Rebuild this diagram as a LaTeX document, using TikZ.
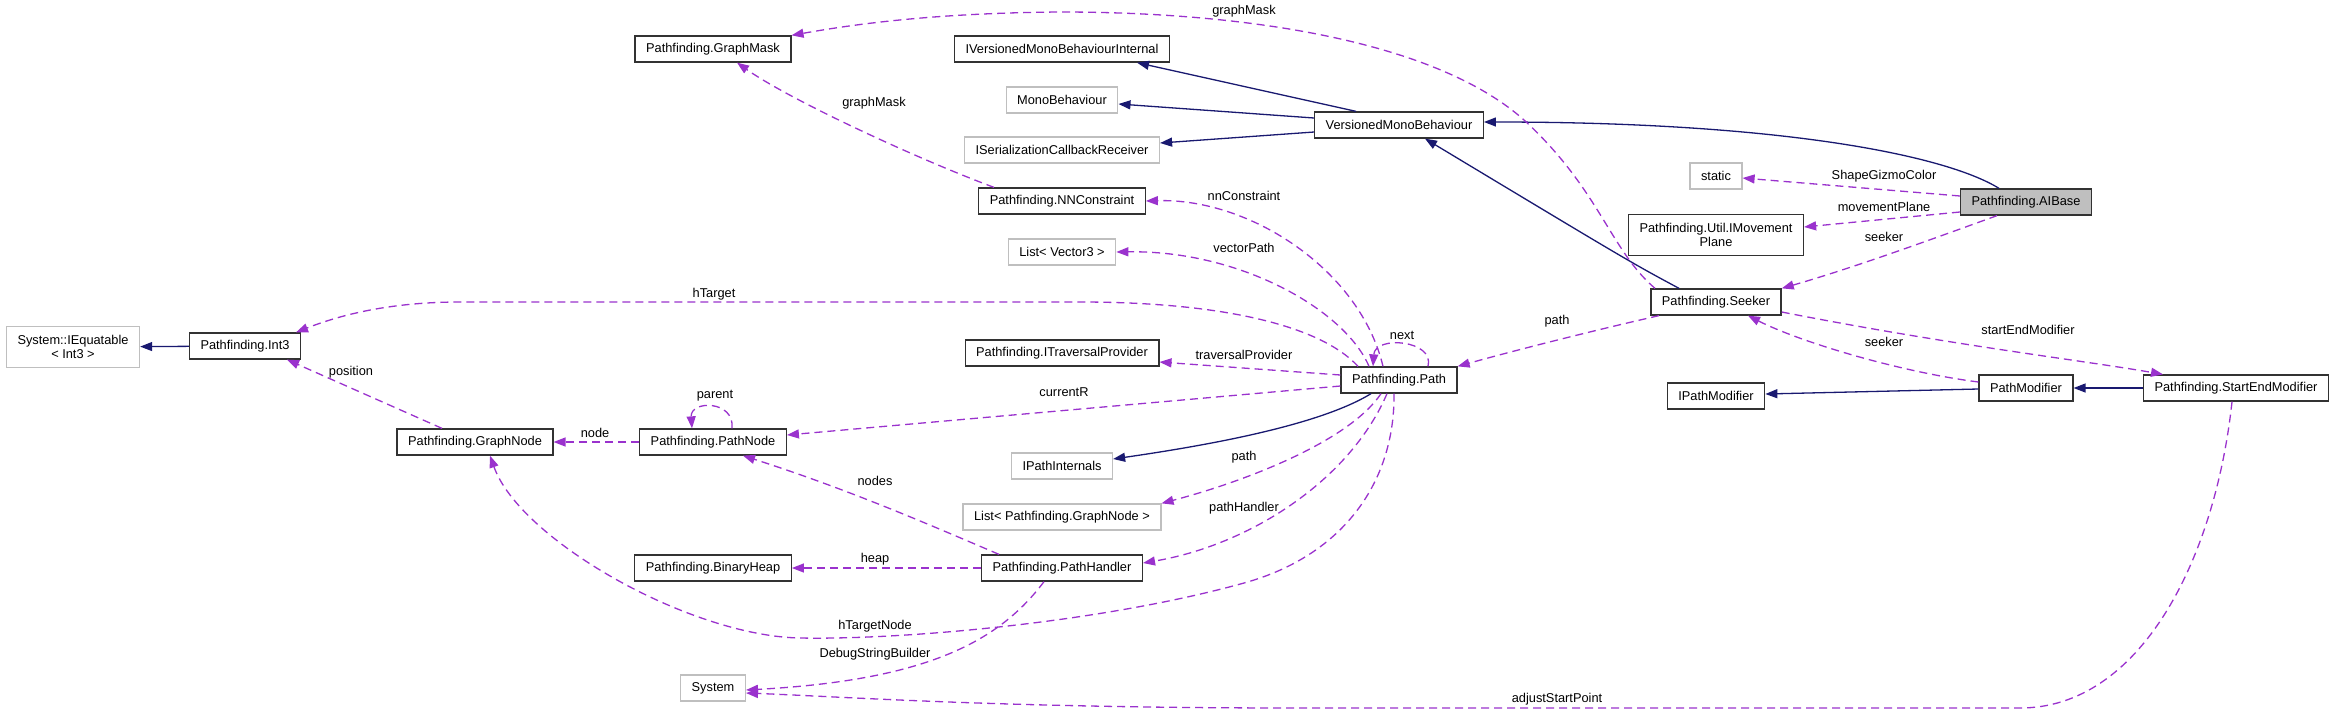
\documentclass[tikz,border=0pt]{standalone}
\usepackage{fontspec}
\setmainfont{Liberation Sans}
\usetikzlibrary{arrows.meta,positioning}
\definecolor{inheritblue}{RGB}{25,25,112}
\definecolor{usepurple}{RGB}{154,50,205}
\definecolor{extgray}{RGB}{191,191,191}
\definecolor{framegray}{RGB}{50,50,50}
\newcommand{\doxyfont}{\fontsize{12.8}{14}\selectfont}

\begin{document}
\begin{tikzpicture}[
 x=1pt, y=-1pt,
 cls/.style={rectangle, draw=framegray, fill=white, line width=1.3pt, minimum height=26pt, inner xsep=11pt, inner ysep=0pt, align=center, font=\doxyfont},
 ext/.style={cls, draw=extgray},
 focus/.style={cls, fill=extgray},
 inherit/.style={-{Triangle[length=12pt,width=9pt]}, color=inheritblue, line width=1.3pt},
 uses/.style={-{Triangle[length=12pt,width=9pt]}, color=usepurple, line width=1.3pt, dash pattern=on 8pt off 5pt},
 lbl/.style={font=\doxyfont, text=black, inner sep=0pt}
]
\useasboundingbox (0,0) rectangle (2335,713);

% Left columns
\node[ext, minimum height=41pt] (iequatable) at (73,347) {System::IEquatable\\< Int3 >};
\node[cls] (int3) at (245,346) {Pathfinding.Int3};
\node[cls] (graphnode) at (475,442) {Pathfinding.GraphNode};
\node[cls] (graphmask) at (713,49) {Pathfinding.GraphMask};
\node[cls] (pathnode) at (713,442) {Pathfinding.PathNode};
\node[cls] (binaryheap) at (713,568) {Pathfinding.BinaryHeap};
\node[ext] (system) at (713,688) {System};

% Middle column
\node[cls] (ivmbi) at (1062,49) {IVersionedMonoBehaviourInternal};
\node[ext] (monobeh) at (1062,100) {MonoBehaviour};
\node[ext] (iscr) at (1062,150) {ISerializationCallbackReceiver};
\node[cls] (nnconstraint) at (1062,201) {Pathfinding.NNConstraint};
\node[ext] (listvec) at (1062,252) {List< Vector3 >};
\node[cls] (itraversal) at (1062,353) {Pathfinding.ITraversalProvider};
\node[ext] (ipathint) at (1062,466) {IPathInternals};
\node[ext] (listgn) at (1062,517) {List< Pathfinding.GraphNode >};
\node[cls] (pathhandler) at (1062,568) {Pathfinding.PathHandler};

% Base classes
\node[cls] (vmb) at (1399,125) {VersionedMonoBehaviour};
\node[cls] (path) at (1399,380) {Pathfinding.Path};

% Right columns
\node[ext] (static) at (1716,176) {static};
\node[cls, minimum height=41pt] (imoveplane) at (1716,235) {Pathfinding.Util.IMovement\\Plane};
\node[cls] (seeker) at (1716,302) {Pathfinding.Seeker};
\node[cls] (ipathmod) at (1716,396) {IPathModifier};
\node[focus] (aibase) at (2026,202) {Pathfinding.AIBase};
\node[cls] (pathmod) at (2026,388) {PathModifier};
\node[cls] (startend) at (2236,388) {Pathfinding.StartEndModifier};

% Inheritance
\draw[inherit] (int3) -- (iequatable);
\draw[inherit] ([xshift=-43pt]vmb.north) -- ([xshift=75pt]ivmbi.south);
\draw[inherit] ([yshift=7pt]vmb.west) -- ([yshift=-4pt]monobeh.east);
\draw[inherit] ([yshift=-7pt]vmb.west) -- ([yshift=7pt]iscr.east);
\draw[inherit] ([xshift=-27pt]aibase.north) .. controls (1945,155) and (1780,122) .. ([yshift=3pt]vmb.east);
\draw[inherit] ([xshift=-37pt]seeker.north) .. controls (1630,262) .. ([xshift=26pt]vmb.south);
\draw[inherit] ([xshift=-28pt]path.south) .. controls (1320,425) and (1210,445) .. ([yshift=7pt]ipathint.east);
\draw[inherit] (startend) -- (pathmod);
\draw[inherit] ([yshift=-1pt]pathmod.west) -- ([yshift=2pt]ipathmod.east);

% Members - AIBase
\draw[uses] ([yshift=6pt]aibase.west) -- ([yshift=-2pt]static.east) node[lbl] at (1884,176) {ShapeGizmoColor};
\draw[uses] ([yshift=-10pt]aibase.west) -- ([yshift=8pt]imoveplane.east) node[lbl] at (1884,207) {movementPlane};
\draw[uses] ([xshift=-29pt]aibase.south) .. controls (1935,238) and (1856,267) .. (seeker.north east) node[lbl] at (1884,237) {seeker};

% Members - Seeker and modifiers
\draw[uses] ([xshift=-61pt]seeker.north) .. controls (1610,250) and (1600,190) .. (1524,120)
 .. controls (1440,45) and (1260,12) .. (1060,12) .. controls (930,13) and (850,25) .. (graphmask.north east)
 node[lbl] at (1244,11) {graphMask};
\draw[uses] ([xshift=-57pt]seeker.south) .. controls (1600,329) and (1520,349) .. (path.north east) node[lbl] at (1557,321) {path};
\draw[uses] ([yshift=-10pt]seeker.east) .. controls (1950,345) and (2080,360) .. ([xshift=-73pt]startend.north) node[lbl] at (2028,330) {startEndModifier};
\draw[uses] ([yshift=6pt]pathmod.west) .. controls (1900,372) and (1800,342) .. ([xshift=32pt]seeker.south) node[lbl] at (1884,342) {seeker};
\draw[uses] ([xshift=-4pt]startend.south) .. controls (2215,560) and (2140,708) .. (2020,708) -- (1300,708)
 .. controls (1000,708) and (850,697) .. ([yshift=-5pt]system.east) node[lbl] at (1557,699) {adjustStartPoint};

% Members - Path
\draw[uses] ([xshift=-16pt]path.north) .. controls (1360,270) and (1250,198) .. (nnconstraint.east) node[lbl] at (1244,196) {nnConstraint};
\draw[uses] ([xshift=-30pt]path.north) .. controls (1345,310) and (1240,250) .. (listvec.east) node[lbl] at (1244,248) {vectorPath};
\draw[uses] ([xshift=-41pt]path.north) .. controls (1320,325) and (1220,302) .. (1080,302) -- (460,302)
 .. controls (390,302) and (340,315) .. ([xshift=51pt]int3.north) node[lbl] at (714,294) {hTarget};
\draw[uses] ([yshift=5pt]path.west) -- ([yshift=-9pt]itraversal.east) node[lbl] at (1244,355) {traversalProvider};
\draw[uses] ([yshift=-6pt]path.west) -- ([yshift=7pt]pathnode.east) node[lbl] at (1064,392) {currentR};
\draw[uses] ([xshift=29pt]path.north) .. controls (1435,340) and (1375,335) .. ([xshift=-26pt]path.north) node[lbl] at (1402,335) {next};
\draw[uses] ([xshift=-18pt]path.south) .. controls (1350,440) and (1250,480) .. (listgn.north east) node[lbl] at (1244,457) {path};
\draw[uses] ([xshift=-12pt]path.south) .. controls (1350,480) and (1250,545) .. ([yshift=5pt]pathhandler.east) node[lbl] at (1244,508) {pathHandler};
\draw[uses] ([xshift=-5pt]path.south) .. controls (1395,480) and (1345,555) .. (1244,583)
 .. controls (1100,623) and (900,640) .. (800,638) .. controls (690,636) and (520,540) .. ([xshift=15pt]graphnode.south)
 node[lbl] at (875,626) {hTargetNode};

% Members - PathHandler and nodes
\draw[uses] ([xshift=-63pt]pathhandler.north) .. controls (930,525) and (850,490) .. ([xshift=30pt]pathnode.south) node[lbl] at (875,481) {nodes};
\draw[uses] (pathhandler) -- (binaryheap) node[lbl] at (875,559) {heap};
\draw[uses] ([xshift=-18pt]pathhandler.south) .. controls (1000,640) and (930,680) .. ([yshift=-2pt]system.east) node[lbl] at (875,654) {DebugStringBuilder};
\draw[uses] ([xshift=19pt]pathnode.north) .. controls (735,400) and (690,400) .. ([xshift=-21pt]pathnode.north) node[lbl] at (715,396) {parent};
\draw[uses] (pathnode) -- (graphnode) node[lbl] at (595,433) {node};
\draw[uses] ([xshift=-33pt]graphnode.north) -- ([xshift=42pt]int3.south) node[lbl] at (351,372) {position};
\draw[uses] ([xshift=-68pt]nnconstraint.north) .. controls (920,160) and (790,100) .. ([xshift=24pt]graphmask.south) node[lbl] at (874,103) {graphMask};

\end{tikzpicture}
\end{document}
